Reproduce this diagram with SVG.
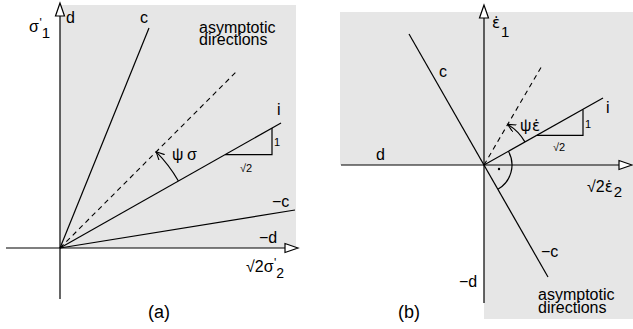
<svg xmlns="http://www.w3.org/2000/svg" width="633" height="329" viewBox="0 0 633 329">
<style>
.bg{fill:#e6e6e6;stroke:none}
.ln{stroke:#000;stroke-width:1.2;fill:none}
.ds{stroke:#000;stroke-width:1.1;fill:none;stroke-dasharray:5,4}
.ah{fill:#fff;stroke:#000;stroke-width:1.2}
.t{font-family:"Liberation Sans",Arial,sans-serif;font-size:16px;fill:#000}
.s{font-family:"Liberation Sans",Arial,sans-serif;font-size:11px;fill:#000}
.e{font-family:"DejaVu Sans",sans-serif;font-size:15px}
.cap{font-family:"Liberation Sans",Arial,sans-serif;font-size:18px;fill:#000;text-anchor:middle}
</style>
<defs>
<marker id="arr" markerWidth="10" markerHeight="10" refX="8" refY="4" orient="auto" markerUnits="userSpaceOnUse">
<path d="M0,0 L8,4 L0,8" fill="none" stroke="#000" stroke-width="1.1"/>
</marker>
</defs>

<g id="panel-a-background">
<rect class="bg" x="60" y="5" width="236" height="243"/>
</g>
<g id="panel-b-background">
<rect class="bg" x="340" y="12" width="293" height="153"/>
<rect class="bg" x="484" y="165" width="149" height="154"/>
</g>

<g id="connectors">
<line class="ln" x1="60" y1="16" x2="60" y2="299"/>
<polygon class="ah" points="60,3 55.5,16 64.5,16"/>
<line class="ln" x1="6" y1="248" x2="286" y2="248"/>
<polygon class="ah" points="298,248 285,243.5 285,252.5"/>
<line class="ln" x1="60" y1="248" x2="149" y2="28"/>
<line class="ds" x1="60" y1="248" x2="237" y2="71"/>
<line class="ln" x1="60" y1="248" x2="281" y2="123"/>
<line class="ln" x1="60" y1="248" x2="295" y2="210"/>
<polyline class="ln" points="225,154.7 272,154.7 272,128.1"/>
<path class="ln" d="M178.4,181 A136,136 0 0 0 156.2,151.8" marker-end="url(#arr)"/>

<line class="ln" x1="484" y1="18" x2="484" y2="303"/>
<polygon class="ah" points="484,5 479.5,18 488.5,18"/>
<line class="ln" x1="341" y1="165" x2="620" y2="165"/>
<polygon class="ah" points="632,165 619,160.5 619,169.5"/>
<line class="ln" x1="409" y1="34" x2="548" y2="277"/>
<line class="ds" x1="484" y1="165" x2="543" y2="64"/>
<line class="ln" x1="484" y1="165" x2="603" y2="98"/>
<polyline class="ln" points="537,135.4 583,135.4 583,109.5"/>
<path class="ln" d="M524.9,141.9 A47,47 0 0 0 507.7,124.4" marker-end="url(#arr)"/>
<path class="ln" d="M508.4,151.3 A28,28 0 0 1 497.9,189.3"/>
<circle cx="499" cy="169" r="1.2" fill="#000"/>
</g>

<g id="labels-a">
<text class="t" x="29" y="32">σ<tspan dx="0.5" dy="-5" style="font-size:12px">'</tspan><tspan dy="11" style="font-size:15px">1</tspan></text>
<text class="t" x="66" y="23">d</text>
<text class="t" x="140" y="23">c</text>
<text class="t" x="199" y="32.5">asymptotic<tspan x="199" dy="12.5">directions</tspan></text>
<text class="t" x="277" y="115">i</text>
<text class="t" x="172" y="160">ψ</text>
<text class="t" x="187" y="160">σ</text>
<text class="s" x="274" y="146">1</text>
<text class="s" x="240" y="172">√2</text>
<text class="t" x="272" y="207">−c</text>
<text class="t" x="259" y="243">−d</text>
<text class="t" x="246" y="272">√2σ<tspan dx="0.5" dy="-5" style="font-size:12px">'</tspan><tspan dy="11" style="font-size:14px">2</tspan></text>
<text class="cap" x="159" y="318">(a)</text>
</g>

<g id="labels-b">
<text class="t" x="492" y="28"><tspan class="e">ε̇</tspan><tspan dx="1" dy="9" style="font-size:15px">1</tspan></text>
<text class="t" x="439" y="77">c</text>
<text class="t" x="376" y="160">d</text>
<text class="t" x="606" y="113">i</text>
<text class="t" x="520" y="131">ψ</text>
<text class="t" x="532" y="131"><tspan class="e">ε̇</tspan></text>
<text class="s" x="585" y="128">1</text>
<text class="s" x="553" y="151">√2</text>
<text class="t" x="587" y="192">√2<tspan class="e">ε̇</tspan><tspan dx="1" dy="5" style="font-size:15px">2</tspan></text>
<text class="t" x="541" y="257">−c</text>
<text class="t" x="459" y="287">−d</text>
<text class="t" x="538" y="300">asymptotic<tspan x="538" dy="12.5">directions</tspan></text>
<text class="cap" x="409" y="318">(b)</text>
</g>
</svg>
